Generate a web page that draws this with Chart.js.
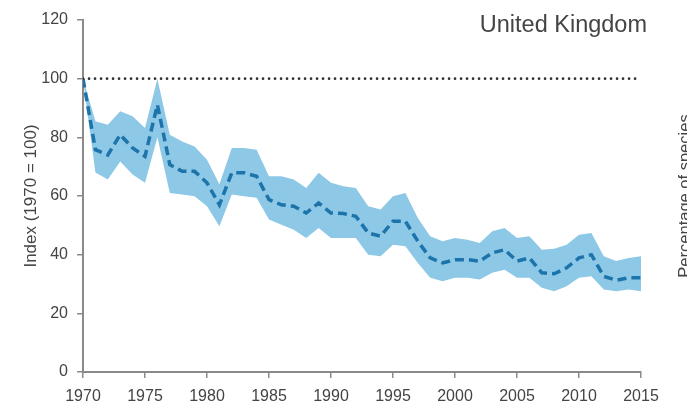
<!DOCTYPE html>
<html>
<head>
<meta charset="utf-8">
<title>United Kingdom</title>
<script src="https://cdn.jsdelivr.net/npm/chart.js@4.4.0/dist/chart.umd.min.js"></script>
<style>
  html, body { margin: 0; padding: 0; background: #fff; }
  #wrap { width: 687px; height: 402px; }
</style>
</head>
<body>
<div id="wrap"><canvas id="chart" width="687" height="402"></canvas></div>
<script>
// Years covered by the index
const years = [];
for (let y = 1970; y <= 2015; y++) years.push(y);

// Index values (1970 = 100)
const indexValues = [
  100, 75.8, 74, 80.9, 76.4, 73.5, 91.1, 70.7, 68.4, 68.4,
  64.5, 57, 67.9, 67.9, 66.7, 58.8, 57, 56.5, 54.2, 57.6,
  54.2, 54, 53.1, 47.4, 46.3, 51.4, 51.4, 44.6, 38.9, 37.2,
  38.3, 38.3, 37.8, 40.6, 41.7, 37.8, 38.9, 33.8, 33.5, 35.5,
  38.9, 40, 32.6, 31.3, 32.1, 32.1
];

// Confidence band
const upperValues = [
  100, 85.5, 84.3, 88.9, 87.2, 83.2, 100, 80.9, 78.6, 76.9,
  72.4, 64, 76.4, 76.4, 75.8, 66.7, 66.7, 65.6, 62.7, 67.9,
  64.5, 63.3, 62.7, 56.5, 55.4, 59.9, 61, 52.5, 46.3, 44.6,
  45.7, 45.1, 44, 48, 49.1, 45.7, 46.3, 41.7, 42, 43.4,
  46.8, 47.4, 39.5, 37.8, 38.9, 39.5
];
const lowerValues = [
  100, 68, 65.6, 71.8, 67.3, 64.5, 80, 61, 60.5, 59.9,
  56.5, 49.7, 60.5, 59.9, 59.4, 52, 50.2, 48.5, 45.7, 49.1,
  45.7, 45.7, 45.7, 40, 39.5, 43.4, 42.9, 37.2, 32.1, 30.9,
  32.1, 32.1, 31.5, 33.8, 34.9, 32.1, 32.1, 28.7, 27.5, 29.2,
  32.1, 32.6, 28.1, 27.5, 28.1, 27.5
];

const baselineValue = 100;
const yTicks = [0, 20, 40, 60, 80, 100, 120];
const xTicks = [1970, 1975, 1980, 1985, 1990, 1995, 2000, 2005, 2010, 2015];

const titleText = 'United Kingdom';
const yTitleText = 'Index (1970 = 100)';
const sideText = 'Percentage of species';

const toPoints = vals => vals.map((v, i) => ({ x: years[i], y: v }));

const FONT = '"Liberation Sans", Arial, sans-serif';
const AXIS = '#8a8a8a';
const TEXT = '#444';

// Title and the clipped label of the neighbouring panel
const extraText = {
  id: 'extraText',
  afterDraw(chart) {
    const ctx = chart.ctx;
    ctx.save();
    ctx.fillStyle = TEXT;
    ctx.font = '23.5px ' + FONT;
    ctx.textAlign = 'right';
    ctx.textBaseline = 'middle';
    ctx.fillText(titleText, 647, 26);

    ctx.translate(685, 196);
    ctx.rotate(-Math.PI / 2);
    ctx.font = '16.5px ' + FONT;
    ctx.textAlign = 'center';
    ctx.textBaseline = 'middle';
    ctx.fillText(sideText, 0, 0);
    ctx.restore();
  }
};

new Chart(document.getElementById('chart'), {
  type: 'line',
  data: {
    datasets: [
      {
        label: 'baseline',
        data: [{ x: years[0], y: baselineValue }, { x: years[years.length - 1], y: baselineValue }],
        borderColor: '#333',
        borderWidth: 2.6,
        borderDash: [0.1, 5.9],
        borderCapStyle: 'round',
        pointRadius: 0,
        fill: false,
        order: 0
      },
      {
        label: 'index',
        data: toPoints(indexValues),
        borderColor: '#1d74ab',
        borderWidth: 3.5,
        borderDash: [9, 5],
        pointRadius: 0,
        tension: 0,
        fill: false,
        order: 1
      },
      {
        label: 'lower',
        data: toPoints(lowerValues),
        borderWidth: 0,
        pointRadius: 0,
        fill: false,
        order: 3
      },
      {
        label: 'upper',
        data: toPoints(upperValues),
        borderWidth: 0,
        pointRadius: 0,
        backgroundColor: '#8ec8e7',
        fill: '-1',
        order: 2
      }
    ]
  },
  options: {
    responsive: false,
    animation: false,
    layout: { padding: { top: 20, right: 46, left: 0, bottom: 0 } },
    plugins: {
      legend: { display: false },
      tooltip: { enabled: false }
    },
    scales: {
      x: {
        type: 'linear',
        min: 1970,
        max: 2015,
        afterBuildTicks: axis => { axis.ticks = xTicks.map(v => ({ value: v })); },
        afterFit: axis => { axis.height = 30; },
        grid: { drawOnChartArea: false, drawTicks: true, tickLength: 6, color: AXIS, lineWidth: 1.5 },
        border: { display: true, color: AXIS, width: 2 },
        ticks: {
          color: TEXT,
          font: { family: FONT, size: 16 },
          padding: 9,
          maxRotation: 0,
          autoSkip: false,
          callback: v => String(v)
        }
      },
      y: {
        min: 0,
        max: 120,
        afterBuildTicks: axis => { axis.ticks = yTicks.map(v => ({ value: v })); },
        afterFit: axis => { axis.width = 83; },
        grid: { drawOnChartArea: false, drawTicks: true, tickLength: 6, color: AXIS, lineWidth: 1.5 },
        border: { display: true, color: AXIS, width: 2 },
        ticks: { color: TEXT, font: { family: FONT, size: 16 }, padding: 9 },
        title: {
          display: true,
          text: yTitleText,
          color: TEXT,
          font: { family: FONT, size: 17 },
          padding: { top: 21, bottom: 0 }
        }
      }
    }
  },
  plugins: [extraText]
});
</script>
</body>
</html>
